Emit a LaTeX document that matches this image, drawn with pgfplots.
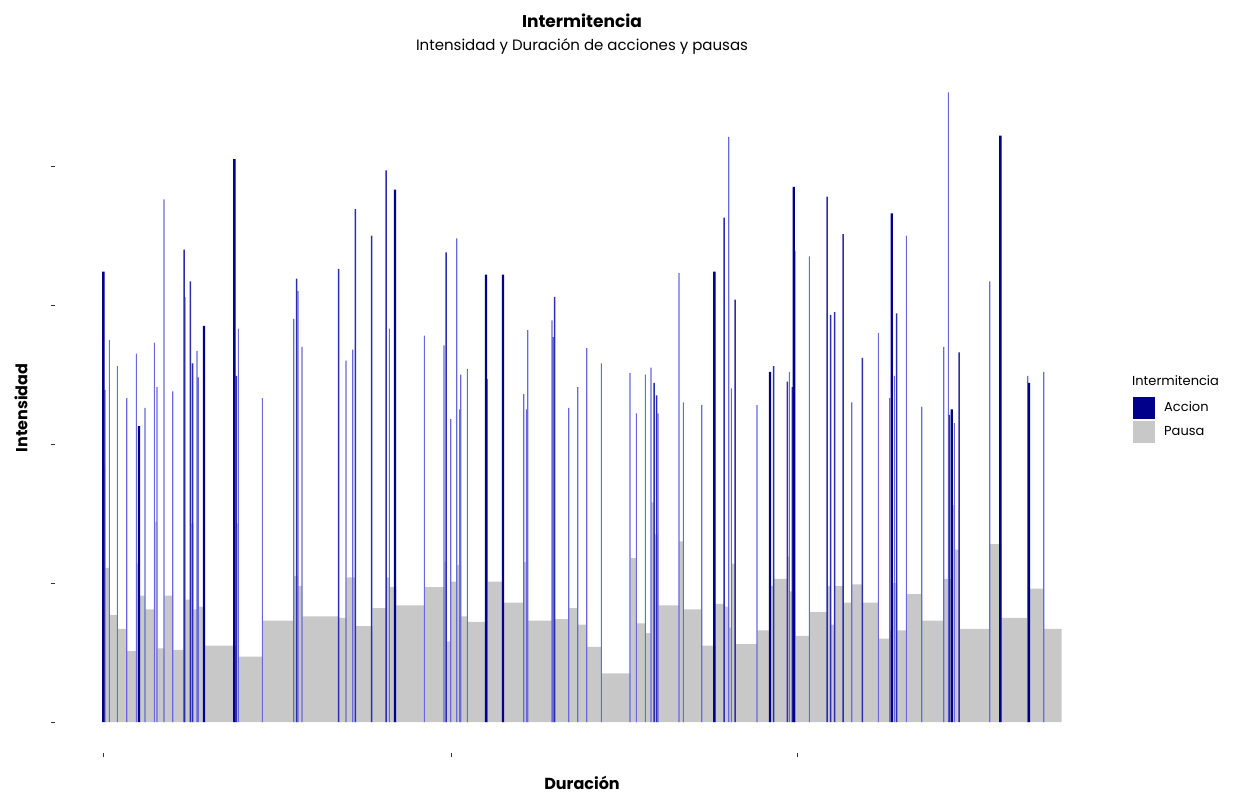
\documentclass[border=0pt]{standalone}
\usepackage{pgfplots}
\pgfplotsset{compat=1.18}
\usepackage{fontspec}
\setmainfont{Poppins}
\definecolor{accion}{RGB}{0,0,139}
\definecolor{accionm}{RGB}{45,45,175}
\definecolor{acciont}{RGB}{105,105,222}
\definecolor{pausa}{RGB}{200,200,200}
\definecolor{tickc}{RGB}{51,51,51}
\begin{document}
\begin{tikzpicture}
\path[use as bounding box] (0,0) rectangle (1233pt,794pt);
\begin{axis}[
  at={(55pt,40.5pt)}, anchor=south west,
  scale only axis, width=1055pt, height=692.5pt,
  xmin=-48, xmax=1007, ymin=-0.2265, ymax=4.7565,
  axis lines=left, axis line style={draw=none},
  xtick={0,348,694}, ytick={0,1,2,3,4},
  xticklabels={,,}, yticklabels={,,,,},
  tick align=outside, major tick length=4pt,
  tick style={tickc, line width=0.7pt},
  clip=false,
  reverse legend,
  legend cell align=left,
  legend style={at={(axis description cs:1.0218,0.5155)}, anchor=north west,
    draw=none, fill=none, inner sep=0pt, row sep=2pt,
    font=\fontsize{13}{15}\selectfont,
    nodes={inner sep=0pt},
    /tikz/every odd column/.append style={column sep=9pt}},
]
% Pausa: start of each pause, intensity (const plot, left)
\addplot[const plot, fill=pausa, draw=none,
  legend image code/.code={\fill[pausa] (0pt,-11pt) rectangle (22pt,11pt);}]
  table {
x y
0.5 0
0.5 1.83
2 1.11
6.3 0.77
14.3 0.67
23.7 0.51
33.3 1.14
36.7 0.91
42 0.81
51.3 1.44
54.3 0.53
61.3 0.91
70 0.52
82 0.88
87.3 1.43
90.7 0.81
95.3 0.83
102 0.55
133.3 1.43
135.7 0.47
159.3 0.73
190.7 1.05
195 0.98
199 0.76
236 0.75
243.3 1.04
252.7 0.69
269.3 0.82
283 1.04
286.7 0.97
293.3 0.84
321.7 0.97
341.3 1.15
344 0.58
348 1.01
353.7 1.13
358 0.76
364.7 0.72
384.7 1.01
400.7 0.86
420.7 1.15
425 0.73
452 0.74
466 0.82
474.7 0.70
483.7 0.54
498.7 0.35
527.3 1.18
533.7 0.71
542.7 0.64
548 1.58
551 1.35
555.3 0.84
576 1.30
580.7 0.81
599 0.55
612.3 0.85
621.7 0.83
626 0.68
628.3 1.14
632.7 0.56
654.3 0.66
668 0.98
671 1.03
684.3 1.19
686.3 0.94
692.3 0.62
706.7 0.79
724 0.98
727.7 0.70
732 0.98
740.3 0.86
749 0.99
759.7 0.86
775.7 0.60
787 0.66
789 1.00
794 0.66
803.7 0.92
819 0.73
840.7 1.03
849.3 1.56
852 1.24
856.3 0.67
887 1.28
898.3 0.75
926.7 0.96
941 0.67
958.7 0.67
958.7 0
};
\addlegendentry{Pausa}
% Accion: thin bars
\addplot[ybar, bar width=1.1pt, bar shift=0pt, fill=acciont, draw=none, forget plot]
  table {
x y
2 2.39
6.3 2.75
14.3 2.56
23.7 2.33
33.3 2.65
42 2.26
51.3 2.73
54 2.41
61 3.76
69.7 2.38
82 3.06
94 2.67
95.3 2.48
135.3 2.83
159.3 2.33
190.7 2.90
195 3.10
199 2.70
243 2.60
249.7 2.68
286.3 2.83
321.3 2.78
341 2.71
347.7 2.18
353.7 3.48
356.7 2.25
357.7 2.50
364.3 2.54
384.3 2.47
420.7 2.36
423.3 2.25
424.7 2.82
449 2.89
450.3 2.77
465.7 2.26
474.7 2.41
483.7 2.69
498.3 2.58
527 2.51
533.3 2.22
542.3 2.50
548 2.55
555 2.22
576 3.23
580.3 2.30
598.7 2.28
625.7 4.21
628.3 2.40
654 2.28
686.3 2.52
692 3.39
706.3 3.35
748.7 2.30
775.3 2.80
786.7 2.33
791.3 2.49
803.3 3.50
818.7 2.27
840.7 2.70
845.3 4.53
851.3 2.15
886.7 3.17
924.7 2.49
940.7 2.52
};
% Accion: medium bars
\addplot[ybar, bar width=1.5pt, bar shift=0pt, fill=accionm, draw=none, forget plot]
  table {
x y
81 3.40
87.3 3.17
89.7 2.58
133.3 2.49
193.7 3.19
235.7 3.26
252.3 3.69
268.7 3.50
283 3.97
343 3.38
451.7 3.06
551 2.44
553.7 2.35
621 3.63
632 3.04
670.7 2.56
684.3 2.45
689.3 2.41
724 3.78
727.7 2.93
731.7 2.95
740 3.51
759.3 2.62
793.7 2.94
846.3 2.21
856 2.66
};
% Accion: thick bars
\addplot[ybar, bar width=2.4pt, bar shift=0pt, fill=accion, draw=none,
  legend image code/.code={\fill[accion] (0pt,-11pt) rectangle (22pt,11pt);}]
  table {
x y
0.3 3.24
36 2.13
101 2.85
131.3 4.05
292 3.83
383 3.22
400 3.22
611.3 3.24
667 2.52
690.7 3.85
788.7 3.66
848.7 2.25
897.3 4.22
926 2.44
};
\addlegendentry{Accion}
\end{axis}
\node[font=\bfseries\fontsize{17}{20}\selectfont] at (582pt,773pt) {Intermitencia};
\node[font=\fontsize{15}{18}\selectfont] at (582pt,747pt) {Intensidad y Duración de acciones y pausas};
\node[font=\bfseries\fontsize{16}{19}\selectfont] at (582pt,11pt) {Duración};
\node[font=\bfseries\fontsize{16}{19}\selectfont, rotate=90] at (21pt,386pt) {Intensidad};
\node[font=\fontsize{13}{15}\selectfont, anchor=west, inner sep=0pt] at (1132pt,413pt) {Intermitencia};
\end{tikzpicture}
\end{document}
